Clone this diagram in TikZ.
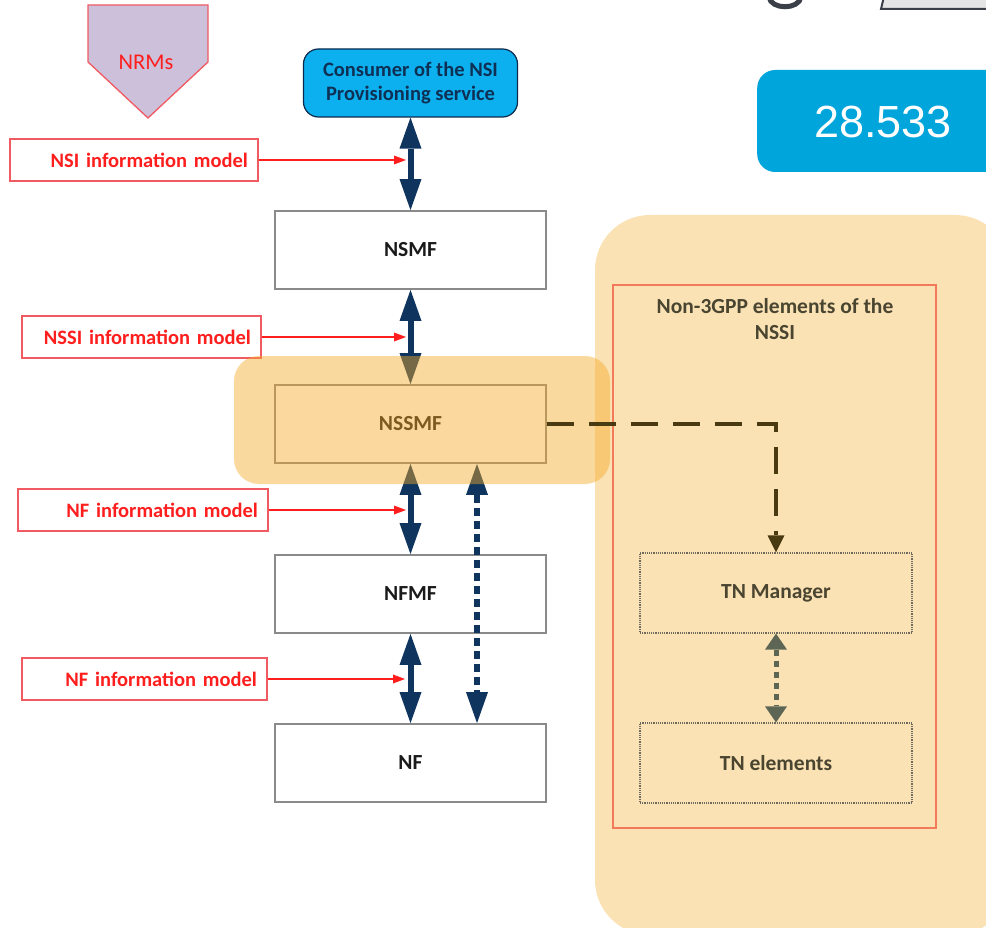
\documentclass[tikz,border=0pt]{standalone}
\usepackage{fontspec}
\setmainfont{Carlito}
\newfontfamily\arialfont{Liberation Sans}
\usetikzlibrary{arrows.meta}

\definecolor{navyc}{HTML}{0F355F}
\definecolor{lblred}{HTML}{F25A62}
\definecolor{txtred}{HTML}{FF1E1E}
\definecolor{nrmfill}{HTML}{CCC0DA}
\definecolor{consfill}{HTML}{0DB0EE}
\definecolor{specfill}{HTML}{00A5DB}
\definecolor{boxgray}{HTML}{8A8A8A}
\definecolor{tnline}{HTML}{6E6A5E}
\definecolor{txtdark}{HTML}{1A1A1A}
\definecolor{panelfill}{HTML}{FBE2B4}
\definecolor{panelline}{HTML}{F27A5A}
\definecolor{hilite}{HTML}{F5AA28}
\definecolor{dashbrown}{HTML}{4A3A12}
\definecolor{tngray}{HTML}{5D6655}
\definecolor{titletxt}{HTML}{4A4530}
\definecolor{fraggray}{HTML}{3A3F48}

\begin{document}
\begin{tikzpicture}[x=1pt,y=-1pt,
  fbox/.style={draw=boxgray, line width=1.8pt, fill=white,
    minimum width=271pt, minimum height=78pt, inner sep=0pt,
    text=txtdark, font=\fontsize{21.5}{25}\selectfont\bfseries},
  infolbl/.style={draw=lblred, line width=1.3pt, fill=white, text=txtred,
    font=\fontsize{20.5}{24}\selectfont\bfseries, align=right,
    inner xsep=10pt, inner ysep=0pt, minimum height=42pt},
  tnbox/.style={draw=tnline, densely dotted, line width=1.2pt,
    minimum width=272pt, minimum height=80pt, inner sep=0pt,
    text=titletxt, font=\fontsize{21.5}{25}\selectfont\bfseries},
  navyarr/.style={draw=navyc, line width=6pt,
    {Triangle[width=22pt,length=31pt,line width=0pt]}-{Triangle[width=22pt,length=31pt,line width=0pt]}},
  navydot/.style={navyarr, dash pattern=on 8pt off 5pt},
  redarr/.style={draw=txtred, line width=1.2pt,
    -{Triangle[width=9pt,length=12pt,line width=0pt]}},
  dasharr/.style={draw=dashbrown, line width=3.5pt, dash pattern=on 27pt off 15pt,
    -{Triangle[width=17pt,length=17pt,line width=0pt]}},
  tnarr/.style={draw=tngray, line width=5pt, dash pattern=on 6pt off 5pt,
    {Triangle[width=22pt,length=16pt,line width=0pt]}-{Triangle[width=22pt,length=16pt,line width=0pt]}}
]
\useasboundingbox (0,0) rectangle (986,928);

% pieces of neighbouring slide content cut by the top edge
\begin{scope}
  \clip (0,0) rectangle (986,928);
  \draw[draw=fraggray, line width=5pt] (769,-3) .. controls (771,10) and (799,10) .. (801,-3);
  \draw[draw=fraggray, fill=gray!20, line width=2pt] (881,9) -- (886,-12) -- (1000,-12) -- (1000,9) -- cycle;
\end{scope}

% right panel: non-3GPP part of the slice subnet
\fill[panelfill, rounded corners=55pt] (595,215) rectangle (1010,935);
\draw[panelline, line width=1.5pt] (613,285) rectangle (936,828);
\node[text=titletxt, align=center, font=\fontsize{21.5}{26}\selectfont\bfseries] (title) at (775,319) {Non-3GPP elements of the\\NSSI};

% NRMs marker
\draw[draw=lblred, fill=nrmfill, line width=1.3pt] (88,5) -- (208,5) -- (208,62) -- (148,118) -- (88,62) -- cycle;
\node[text=txtred, font=\fontsize{22.5}{26}\selectfont] (nrm) at (146,62) {NRMs};

% spec number
\node[fill=specfill, rounded corners=18pt, minimum width=260pt, minimum height=102pt, anchor=west] (spec) at (757,121) {};
\node[text=white, font=\arialfont\fontsize{45}{50}\selectfont] (spectxt) at (883,122) {28.533};

% consumer of the provisioning service
\node[draw=navyc!80!black, line width=1.2pt, fill=consfill, rounded corners=15pt,
  minimum width=214pt, minimum height=68pt, align=center, text=navyc!90!black,
  font=\fontsize{20.5}{24}\selectfont\bfseries] (cons) at (410.5,83) {Consumer of the NSI\\Provisioning service};

% management function chain
\node[fbox] (nsmf) at (410.5,250) {NSMF};
\node[fbox] (nssmf) at (410.5,424) {NSSMF};
\node[fbox] (nfmf) at (410.5,594) {NFMF};
\node[fbox] (nf) at (410.5,763) {NF};

% information model labels
\node[infolbl, text width=228pt] (lnsi) at (134,160) {NSI information model};
\node[infolbl, text width=219pt] (lnssi) at (141.5,337) {NSSI information model};
\node[infolbl, text width=230pt] (lnf1) at (143,510) {NF information model};
\node[infolbl, text width=225pt] (lnf2) at (144.5,679) {NF information model};

\coordinate (t1) at (406,160);
\coordinate (t2) at (406,337);
\coordinate (t3) at (406,510);
\coordinate (t4) at (405,679);

% interfaces between the layers
\draw[navyarr] (cons.south) -- (nsmf.north);
\draw[navyarr] (nsmf.south) -- (nssmf.north);
\draw[navyarr] (nssmf.south) -- (nfmf.north);
\draw[navyarr] (nfmf.south) -- (nf.north);
\draw[navydot] ([xshift=66.5pt]nssmf.south) -- ([xshift=66.5pt]nf.north);

\draw[redarr] (lnsi.east) -- (t1);
\draw[redarr] (lnssi.east) -- (t2);
\draw[redarr] (lnf1.east) -- (t3);
\draw[redarr] (lnf2.east) -- (t4);

% transport network elements
\node[tnbox] (tnm) at (776,593) {TN Manager};
\node[tnbox] (tne) at (776,763) {TN elements};
\draw[tnarr] (tnm.south) -- (tne.north);

% NSSMF highlight
\fill[hilite, opacity=0.45, rounded corners=25pt] (234,356) rectangle (610,484);

\draw[dasharr] (nssmf.east) -| (tnm.north);
\end{tikzpicture}
\end{document}
